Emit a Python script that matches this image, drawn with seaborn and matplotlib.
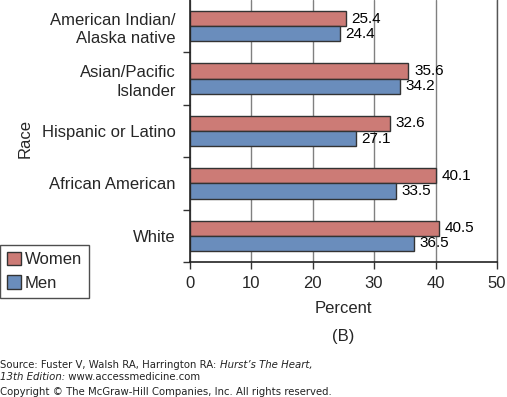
import numpy as np
import pandas as pd
import matplotlib
matplotlib.use("Agg")
import matplotlib.pyplot as plt
import seaborn as sns

# data
races = ["American Indian/\nAlaska native", "Asian/Pacific\nIslander",
         "Hispanic or Latino", "African American", "White"]
women = [25.4, 35.6, 32.6, 40.1, 40.5]
men = [24.4, 34.2, 27.1, 33.5, 36.5]
sexes = ["Women", "Men"]
colors = ["#CC7B76", "#6A8DBC"]
x_ticks = [0, 10, 20, 30, 40, 50]

df = pd.DataFrame({
    "race": races * 2,
    "sex": ["Women"] * len(races) + ["Men"] * len(races),
    "pct": women + men,
})

sns.set_theme(style="white")
plt.rcParams["font.family"] = ["Liberation Sans", "DejaVu Sans"]

fig = plt.figure(figsize=(5.07, 3.97), dpi=100)
W, H = 507, 397
ax = fig.add_axes([189.5 / W, 1 - 262 / H, (497 - 189.5) / W, 262 / H])

sns.barplot(data=df, y="race", x="pct", hue="sex", order=races, hue_order=sexes,
            palette=colors, orient="h", width=0.58, edgecolor="#333333",
            linewidth=1.0, saturation=1, legend=False, ax=ax)

for cont in ax.containers:
    ax.bar_label(cont, fmt="%.1f", padding=4, fontsize=11, color="black")

ax.set_xlim(0, 50)
ax.set_ylim(len(races) - 0.5, -0.5)
ax.set_xticks(x_ticks)
ax.set_xticklabels([str(t) for t in x_ticks], fontsize=12)
ax.xaxis.grid(True, color="#808080", linewidth=1.0)
ax.set_axisbelow(True)

# category labels at centres, tick marks at group boundaries
ax.set_yticks(range(len(races)))
ax.set_yticklabels(races, fontsize=12, ha="right", multialignment="right",
                   linespacing=1.3)
ax.set_yticks(np.arange(len(races)) + 0.5, minor=True)
ax.tick_params(axis="y", which="major", length=0, pad=10)
ax.tick_params(axis="y", which="minor", length=5, width=1, color="#333333", left=True)
ax.tick_params(axis="x", length=5, width=1, color="#333333", bottom=True, pad=5)

ax.set_xlabel("Percent", fontsize=12, labelpad=7)
ax.set_ylabel("")
for s in ["left", "bottom"]:
    ax.spines[s].set_color("#222222")
    ax.spines[s].set_linewidth(1.2)
ax.spines["right"].set_color("#555555")
ax.spines["right"].set_linewidth(1.0)
ax.spines["top"].set_visible(False)

fig.text(25 / W, 1 - 138 / H, "Race", rotation=90, fontsize=12,
         ha="center", va="center")
fig.text(343 / W, 1 - 337 / H, "(B)", fontsize=12, ha="center", va="center")

handles = [plt.Rectangle((0, 0), 1, 1, facecolor=c, edgecolor="#333333", linewidth=1.0)
           for c in colors]
leg = fig.legend(handles, sexes, loc="upper left", bbox_to_anchor=(0, 1 - 245 / H),
                 fontsize=12, frameon=True, fancybox=False, handlelength=0.85,
                 handleheight=0.85, handletextpad=0.25, borderpad=0.4,
                 labelspacing=0.5, borderaxespad=0)
leg.get_frame().set_edgecolor("#222222")
leg.get_frame().set_linewidth(1.0)

# source footer
src_font = dict(fontsize=7.3, family="DejaVu Sans", color="#222222")
t1 = fig.text(0, 1 - 365 / H, "Source: Fuster V, Walsh RA, Harrington RA: ",
              va="center", **src_font)
plt.annotate("Hurst\u2019s The Heart,", xy=(1, 0.5), xycoords=t1, va="center",
             style="italic", **src_font)
t2 = fig.text(0, 1 - 377 / H, "13th Edition:", va="center", style="italic", **src_font)
plt.annotate(" www.accessmedicine.com", xy=(1, 0.5), xycoords=t2, va="center",
             **src_font)
fig.text(0, 1 - 392 / H, "Copyright \u00a9 The McGraw-Hill Companies, Inc. All rights reserved.",
         va="center", **src_font)

fig.savefig("out.png", dpi=100)
